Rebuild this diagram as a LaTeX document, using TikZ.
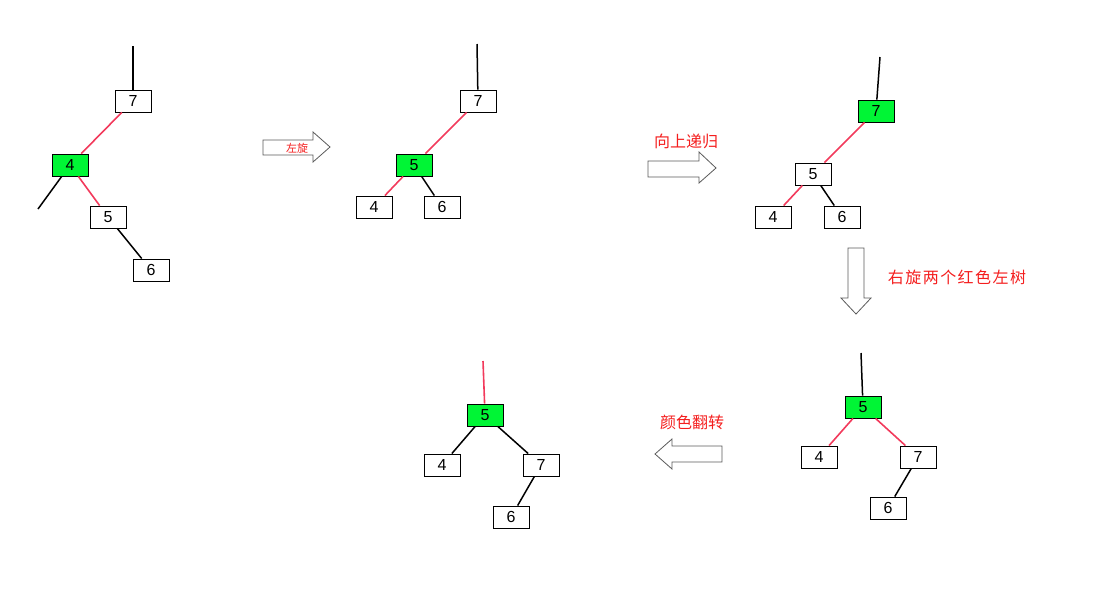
\documentclass[tikz,border=0pt]{standalone}
\usepackage{fontspec}
\setmainfont{Liberation Sans}
\newfontfamily\cjk{Noto Sans CJK SC}
\newfontfamily\cjkwide[LetterSpace=9]{Noto Sans CJK SC}
\definecolor{linkred}{HTML}{F23A5C}
\definecolor{nodegreen}{HTML}{00F535}
\definecolor{labelred}{HTML}{F41E1E}
\definecolor{arrowgray}{HTML}{5A5A5A}

\begin{document}
\begin{tikzpicture}[
      x = 1pt, y = -1pt,
  keybox/.style = {draw, line width=0.9pt, fill=white, minimum width=36pt,
                   minimum height=22pt, inner sep=0pt, font=\fontsize{16}{16}\selectfont},
  hotbox/.style = {keybox, fill=nodegreen},
  redlink/.style = {draw=linkred, line width=1.6pt},
  blacklink/.style = {draw=black, line width=1.5pt},
  hollow/.style = {draw=arrowgray, line width=0.8pt, fill=white, line join=miter},
  steplabel/.style = {text=labelred, font=\cjk\fontsize{16}{16}\selectfont}
                    ]
\useasboundingbox (0,0) rectangle (1113,598);
% tree before rotation
\node[keybox] (a7) at (133,101) {7};
\node[hotbox] (a4) at (70,165) {4};
\node[keybox] (a5) at (108,217) {5};
\node[keybox] (a6) at (151,270) {6};
\coordinate (a0) at (133,46);
\coordinate (al) at (38,209);
\draw[blacklink] (a0) -- (a7);
\draw[redlink] (a7) -- (a4);
\draw[blacklink] (a4) -- (al);
\draw[redlink] (a4) -- (a5);
\draw[blacklink] (a5) -- (a6);
% after left rotation
\node[keybox] (b7) at (478,101) {7};
\node[hotbox] (b5) at (414,165) {5};
\node[keybox] (b4) at (374,207) {4};
\node[keybox] (b6) at (442,207) {6};
\coordinate (b0) at (477,44);
\draw[blacklink] (b0) -- (b7);
\draw[redlink] (b7) -- (b5);
\draw[redlink] (b5) -- (b4);
\draw[blacklink] (b5) -- (b6);
% recursion upwards
\node[hotbox] (c7) at (876,111) {7};
\node[keybox] (c5) at (813,174) {5};
\node[keybox] (c4) at (773,217) {4};
\node[keybox] (c6) at (842,217) {6};
\coordinate (c0) at (880,57);
\draw[blacklink] (c0) -- (c7);
\draw[redlink] (c7) -- (c5);
\draw[redlink] (c5) -- (c4);
\draw[blacklink] (c5) -- (c6);
% after right rotation
\node[hotbox] (d5) at (863,407) {5};
\node[keybox] (d4) at (819,457) {4};
\node[keybox] (d7) at (918,457) {7};
\node[keybox] (d6) at (888,508) {6};
\coordinate (d0) at (861,353);
\draw[blacklink] (d0) -- (d5);
\draw[redlink] (d5) -- (d4);
\draw[redlink] (d5) -- (d7);
\draw[blacklink] (d7) -- (d6);
% after colour flip
\node[hotbox] (e5) at (485,415) {5};
\node[keybox] (e4) at (442,465) {4};
\node[keybox] (e7) at (541,465) {7};
\node[keybox] (e6) at (511,517) {6};
\coordinate (e0) at (483,361);
\draw[redlink] (e0) -- (e5);
\draw[blacklink] (e5) -- (e4);
\draw[blacklink] (e5) -- (e7);
\draw[blacklink] (e7) -- (e6);
% hollow arrows
\draw[hollow] (263,140) -- (313,140) -- (313,132) -- (330,147) -- (313,162) -- (313,155) -- (263,155) -- cycle;
\node[steplabel, font=\cjk\fontsize{11}{11}\selectfont] (rotl) at (297,148) {左旋};
\draw[hollow] (648,161) -- (699,161) -- (699,152) -- (716,168) -- (699,183) -- (699,177) -- (648,177) -- cycle;
\node[steplabel] (up) at (686,141) {向上递归};
\draw[hollow] (848,248) -- (848,298) -- (841,298) -- (856,314) -- (871,298) -- (864,298) -- (864,248) -- cycle;
\node[steplabel, font=\cjkwide\fontsize{16}{16}\selectfont] (rotr) at (957,277) {右旋两个红色左树};
\draw[hollow] (722,446) -- (672,446) -- (672,439) -- (655,454) -- (672,469) -- (672,462) -- (722,462) -- cycle;
\node[steplabel] (flip) at (692,422) {颜色翻转};
\end{tikzpicture}
\end{document}
